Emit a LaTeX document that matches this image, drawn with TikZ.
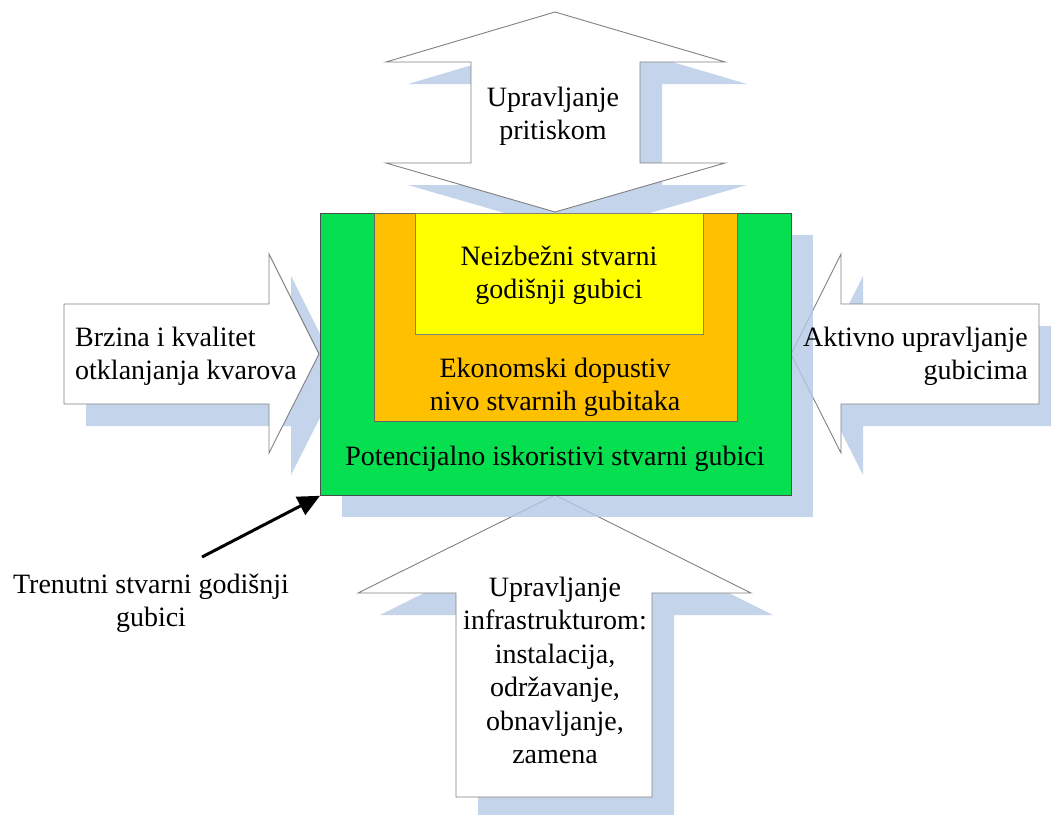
\documentclass[tikz,border=0pt]{standalone}
\usepackage{fontspec}
\setmainfont{Liberation Serif}
\usetikzlibrary{arrows.meta}

\definecolor{lossgreen}{RGB}{6,224,80}
\definecolor{lossorange}{RGB}{255,192,0}
\definecolor{lossyellow}{RGB}{255,255,0}
\definecolor{shadowblue}{RGB}{180,201,230}
\definecolor{outlinegray}{RGB}{128,128,128}

% multi-line text blocks whose baseline is the first line
\newcommand\cblock[1]{\begin{tabular}[t]{@{}c@{}}#1\end{tabular}}
\newcommand\lblock[1]{\begin{tabular}[t]{@{}l@{}}#1\end{tabular}}
\newcommand\rblock[1]{\begin{tabular}[t]{@{}r@{}}#1\end{tabular}}

% outlines of the four block arrows
\newcommand\toparrowpath{(555,12) -- (725,62) -- (640,62) -- (640,163) -- (725,163) -- (555,212) -- (386,163) -- (471,163) -- (471,62) -- (386,62) -- cycle}
\newcommand\leftarrowpath{(64,304) -- (269,304) -- (269,254) -- (319,354) -- (269,453) -- (269,404) -- (64,404) -- cycle}
\newcommand\rightarrowpath{(1039,304) -- (841,304) -- (841,254) -- (791,354) -- (841,453) -- (841,404) -- (1039,404) -- cycle}
\newcommand\bottomarrowpath{(555,495) -- (751,593) -- (652,593) -- (652,797) -- (456,797) -- (456,593) -- (358,593) -- cycle}

\begin{document}
\begin{tikzpicture}[x=1pt,y=-1pt,
  txt/.style={inner sep=0pt, font=\fontsize{28}{33.5}\selectfont},
  shade/.style={fill=shadowblue, fill opacity=0.8, draw=none},
  blockarrow/.style={fill=white, draw=outlinegray, line width=0.9pt, line join=miter},
  zone/.style={draw=black!70, line width=0.8pt, inner sep=0pt, anchor=north west},
  pointer/.style={line width=3pt, -{Triangle[length=22pt,width=20pt]}}]
\useasboundingbox (0,0) rectangle (1051,814);
\clip (0,0) rectangle (1051,814);

% shadows of the block arrows
\begin{scope}[shift={(22,22)}]
  \fill[shade] \toparrowpath;
  \fill[shade] \leftarrowpath;
  \fill[shade] \rightarrowpath;
  \fill[shade] \bottomarrowpath;
\end{scope}

% block arrows
\draw[blockarrow] \toparrowpath;
\draw[blockarrow] \leftarrowpath;
\draw[blockarrow] \rightarrowpath;
\draw[blockarrow] \bottomarrowpath;

% nested loss levels with the shadow of the outer box
\fill[shade] (342,235) rectangle (813,517);
\node[zone, fill=lossgreen, minimum width=471pt, minimum height=282pt] (green) at (320,213) {};
\node[zone, fill=lossorange, draw=black!60, minimum width=363pt, minimum height=208pt] (orange) at (374,213) {};
\node[zone, fill=lossyellow, draw=black!50, minimum width=288pt, minimum height=121pt] (yellow) at (415,213) {};

% texts
\node[txt, anchor=base] (unavoidable) at (559,265) {\cblock{Neizbežni stvarni\\godišnji gubici}};
\node[txt, anchor=base] (economic) at (555,377) {\cblock{Ekonomski dopustiv\\nivo stvarnih gubitaka}};
\node[txt, anchor=base] (potential) at (555,465) {Potencijalno iskoristivi stvarni gubici};
\node[txt, anchor=base] (pressure) at (553,106) {\cblock{Upravljanje\\pritiskom}};
\node[txt, anchor=base west] (repair) at (75,346) {\lblock{Brzina i kvalitet\\otklanjanja kvarova}};
\node[txt, anchor=base east] (active) at (1028,346) {\rblock{Aktivno upravljanje\\gubicima}};
\node[txt, anchor=base] (infra) at (555,596) {\cblock{Upravljanje\\infrastrukturom:\\instalacija,\\održavanje,\\obnavljanje,\\zamena}};
\node[txt, anchor=base] (current) at (151,593) {\cblock{Trenutni stvarni godišnji\\gubici}};

% pointer to the current annual real losses
\coordinate (tail) at (202,557);
\draw[pointer] (tail) -- (green.south west);
\end{tikzpicture}
\end{document}
